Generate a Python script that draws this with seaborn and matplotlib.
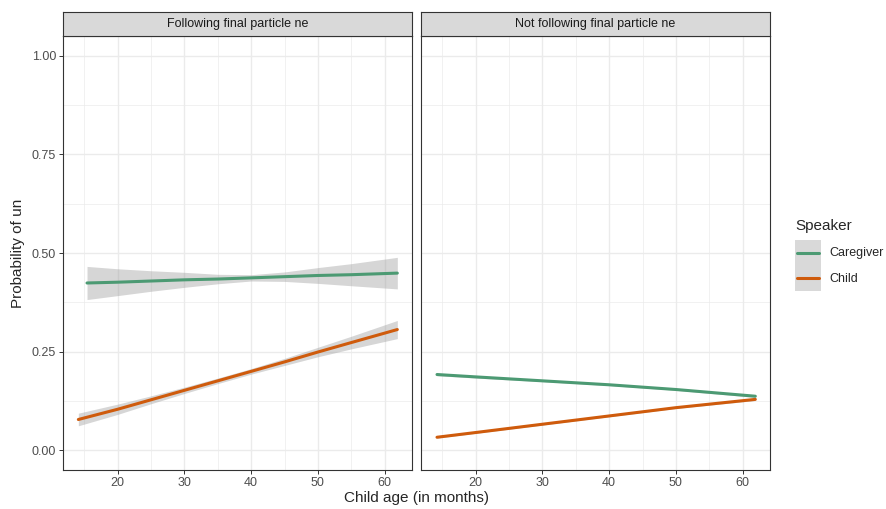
import numpy as np
import pandas as pd
import matplotlib
matplotlib.use("Agg")
import matplotlib.pyplot as plt
import seaborn as sns
from matplotlib.patches import Rectangle
from matplotlib.lines import Line2D
from matplotlib.legend_handler import HandlerBase
from matplotlib.ticker import MultipleLocator

# ---- data ----
facets = ['Following final particle ne', 'Not following final particle ne']
speakers = ['Caregiver', 'Child']

# facet 1: following ne
ne_care_age = [15.4, 20, 25, 30, 35, 40, 45, 50, 55, 61.9]
ne_care_fit = [0.424, 0.426, 0.429, 0.432, 0.434, 0.437, 0.440, 0.443, 0.445, 0.449]
ne_care_se = [0.042, 0.034, 0.026, 0.019, 0.012, 0.008, 0.012, 0.020, 0.028, 0.040]

ne_child_age = [14.1, 20, 25, 30, 35, 40, 45, 50, 55, 61.9]
ne_child_fit = [0.078, 0.104, 0.128, 0.152, 0.176, 0.200, 0.224, 0.249, 0.273, 0.306]
ne_child_se = [0.016, 0.013, 0.010, 0.008, 0.007, 0.007, 0.009, 0.012, 0.016, 0.023]

# facet 2: not following ne
other_care_age = [14.2, 20, 30, 40, 50, 61.9]
other_care_fit = [0.192, 0.186, 0.176, 0.166, 0.154, 0.137]
other_care_se = [0.003, 0.003, 0.002, 0.002, 0.002, 0.003]

other_child_age = [14.2, 20, 30, 40, 50, 61.9]
other_child_fit = [0.033, 0.045, 0.066, 0.087, 0.108, 0.129]
other_child_se = [0.002, 0.002, 0.002, 0.002, 0.002, 0.003]

palette = {'Caregiver': '#4C9A73', 'Child': '#CF5B0C'}

rows = []
for facet, spk, ages, fits, ses in [
        (facets[0], 'Caregiver', ne_care_age, ne_care_fit, ne_care_se),
        (facets[0], 'Child', ne_child_age, ne_child_fit, ne_child_se),
        (facets[1], 'Caregiver', other_care_age, other_care_fit, other_care_se),
        (facets[1], 'Child', other_child_age, other_child_fit, other_child_se)]:
    for a, f, s in zip(ages, fits, ses):
        rows.append({'facet': facet, 'Speaker': spk, 'age': a, 'prob': f,
                     'lo': f - s, 'hi': f + s})
df = pd.DataFrame(rows)


class SmoothKey(HandlerBase):
    # grey ribbon box with the fitted line across its middle (ggplot style key)
    def create_artists(self, legend, orig_handle, xdescent, ydescent, width, height,
                       fontsize, trans):
        box = Rectangle((-xdescent, -ydescent), width, height, facecolor='#D9D9D9',
                        edgecolor='none', transform=trans)
        y = -ydescent + height / 2
        line = Line2D([-xdescent + 1.5, -xdescent + width - 1.5], [y, y],
                      color=orig_handle.get_color(), linewidth=2.2, transform=trans)
        return [box, line]


# ---- figure ----
sns.set_theme(style="white")
plt.rcParams['font.family'] = ['Liberation Sans', 'DejaVu Sans']

fig = plt.figure(figsize=(8.87, 5.09), dpi=100)
W, H = 887, 509
panel_x = [63, 421]
panel_w = 349
top, bottom = 36, 470
strip_h = 24

grid_col = '#EBEBEB'
frame_col = '#333333'

for i, facet in enumerate(facets):
    ax = fig.add_axes([panel_x[i] / W, 1 - bottom / H, panel_w / W, (bottom - top) / H])
    sub = df[df['facet'] == facet]
    for spk in speakers:
        g = sub[sub['Speaker'] == spk]
        ax.fill_between(g['age'], g['lo'], g['hi'], color='#999999', alpha=0.4,
                        linewidth=0, zorder=2)
    sns.lineplot(data=sub, x='age', y='prob', hue='Speaker', hue_order=speakers,
                 palette=palette, linewidth=2.2, legend=False, ax=ax, zorder=3,
                 estimator=None, sort=True)

    ax.set_xlim(11.8, 64.1)
    ax.set_ylim(-0.05, 1.05)
    ax.xaxis.set_major_locator(MultipleLocator(10))
    ax.xaxis.set_minor_locator(MultipleLocator(5))
    ax.yaxis.set_major_locator(MultipleLocator(0.25))
    ax.yaxis.set_minor_locator(MultipleLocator(0.125))
    ax.grid(which='major', color=grid_col, linewidth=1.0, zorder=0)
    ax.grid(which='minor', color=grid_col, linewidth=0.5, zorder=0)
    ax.set_axisbelow(True)
    ax.set_xlabel('')
    ax.set_ylabel('')
    ax.tick_params(which='major', direction='out', length=3, width=0.7, color=frame_col,
                   labelsize=9, labelcolor='#4D4D4D', pad=2,
                   bottom=True, left=(i == 0))
    ax.tick_params(which='minor', length=0)
    if i == 0:
        ax.yaxis.set_major_formatter(matplotlib.ticker.FormatStrFormatter('%.2f'))
    else:
        ax.set_yticklabels([])
    for sp in ax.spines.values():
        sp.set_color(frame_col)
        sp.set_linewidth(0.8)

    # facet strip
    sax = fig.add_axes([panel_x[i] / W, 1 - top / H, panel_w / W, strip_h / H])
    sax.set_facecolor('#D9D9D9')
    sax.set_xticks([])
    sax.set_yticks([])
    for sp in sax.spines.values():
        sp.set_color(frame_col)
        sp.set_linewidth(0.8)
    sax.text(0.5, 0.5, facet, ha='center', va='center', fontsize=9, color='#1A1A1A',
             transform=sax.transAxes)

fig.text((63 + 770) / 2 / W, 1 - 498 / H, 'Child age (in months)', ha='center',
         va='center', fontsize=11)
fig.text(18 / W, 1 - 253 / H, 'Probability of un', ha='center', va='center',
         rotation=90, fontsize=11)

handles = [Line2D([], [], color=palette[s], linewidth=2.2) for s in speakers]
leg = fig.legend(handles, speakers, title='Speaker', loc='upper left',
                 bbox_to_anchor=(795 / W, 1 - 219 / H), frameon=False, fontsize=9,
                 title_fontsize=11, handlelength=2.08, handleheight=2.75,
                 labelspacing=0.0, handletextpad=0.64, borderaxespad=0, borderpad=0,
                 handler_map={Line2D: SmoothKey()})
leg._legend_box.align = 'left'
leg._legend_box.sep = 5

fig.savefig('out.png', dpi=100)
